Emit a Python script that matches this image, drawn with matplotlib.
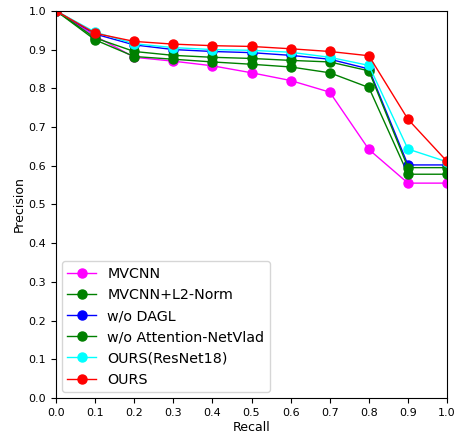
import matplotlib
matplotlib.use('Agg')
import matplotlib.pyplot as plt

recall = [0.0, 0.1, 0.2, 0.3, 0.4, 0.5, 0.6, 0.7, 0.8, 0.9, 1.0]

mvcnn = [1.0, 0.935, 0.880, 0.870, 0.858, 0.840, 0.820, 0.790, 0.642, 0.555, 0.555]
mvcnn_l2 = [1.0, 0.925, 0.882, 0.875, 0.868, 0.862, 0.855, 0.840, 0.802, 0.578, 0.578]
wo_dagl = [1.0, 0.940, 0.912, 0.900, 0.895, 0.892, 0.885, 0.875, 0.850, 0.602, 0.602]
wo_att = [1.0, 0.930, 0.895, 0.885, 0.880, 0.877, 0.872, 0.868, 0.845, 0.595, 0.595]
ours_r18 = [1.0, 0.945, 0.915, 0.905, 0.900, 0.898, 0.893, 0.880, 0.859, 0.643, 0.610]
ours = [1.0, 0.942, 0.921, 0.914, 0.910, 0.908, 0.902, 0.895, 0.884, 0.720, 0.611]

series = [
    ('MVCNN', mvcnn, 'magenta'),
    ('MVCNN+L2-Norm', mvcnn_l2, 'green'),
    ('w/o DAGL', wo_dagl, 'blue'),
    ('w/o Attention-NetVlad', wo_att, 'green'),
    ('OURS(ResNet18)', ours_r18, 'cyan'),
    ('OURS', ours, 'red'),
]

fig = plt.figure(figsize=(4.59, 4.42), dpi=100)
ax = fig.add_axes([0.122, 0.0995, 0.852, 0.876])

for name, vals, c in series:
    ax.plot(recall, vals, color=c, marker='o', markersize=6.5, linewidth=1, label=name)

ax.set_xlim(0, 1)
ax.set_ylim(0, 1)
ax.set_xticks([i / 10 for i in range(11)])
ax.set_yticks([i / 10 for i in range(11)])
ax.tick_params(labelsize=8)
ax.set_xlabel('Recall', fontsize=9, labelpad=2)
ax.set_ylabel('Precision', fontsize=9, labelpad=2)
ax.legend(loc='lower left', fontsize=10.3, borderaxespad=0.4)

fig.savefig('out.png', dpi=100)
